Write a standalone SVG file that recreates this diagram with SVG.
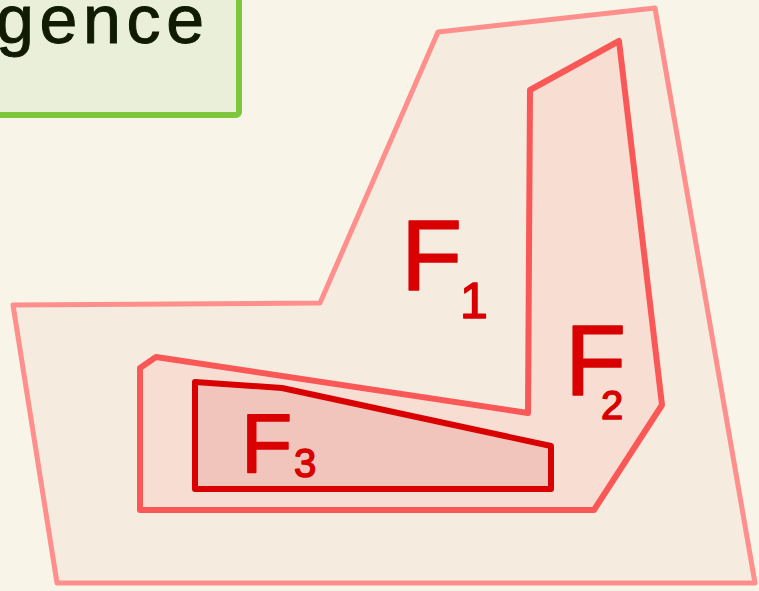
<svg xmlns="http://www.w3.org/2000/svg" width="759" height="591" viewBox="0 0 759 591">
<style>
.lbl{font-family:"Liberation Sans",Arial,sans-serif;fill:#d80000;stroke:#d80000;stroke-width:1.5;stroke-linejoin:round}
.title{font-family:"Liberation Sans",Arial,sans-serif;fill:#111a05;stroke:#111a05;stroke-width:1}
</style>
<rect x="0" y="0" width="759" height="591" fill="#f8f5e8"/>
<g id="title-box">
<rect x="-20" y="-20" width="259" height="135" rx="3" fill="#e9efd8" stroke="#7ec63c" stroke-width="6"/>
<text class="title" x="-4" y="43" font-size="68" textLength="208" lengthAdjust="spacing">gence</text>
</g>
<g id="F1">
<polygon points="438,32 655,8 755,583 57,583 13,305 320,303" fill="#f5ebdf" stroke="#ff8f8c" stroke-width="5" stroke-linejoin="round"/>
<text class="lbl" x="401" y="290" font-size="100">F</text>
<text class="lbl" x="460" y="318" font-size="50">1</text>
</g>
<g id="F2">
<polygon points="530,90 619,41 662,405 594,510 140,510 140,368 156,357 528,413" fill="#f7ddd2" stroke="#fa5757" stroke-width="6" stroke-linejoin="round"/>
<text class="lbl" x="565" y="395" font-size="100">F</text>
<text class="lbl" x="601" y="419" font-size="40">2</text>
</g>
<g id="F3">
<polygon points="195,382 282,388 551,446 551,489 195,489" fill="#f2c5bc" stroke="#d80000" stroke-width="6" stroke-linejoin="round"/>
<text class="lbl" x="241" y="472" font-size="84">F</text>
<text class="lbl" x="294" y="477" font-size="40">3</text>
</g>
<g id="connectors"></g>
</svg>
